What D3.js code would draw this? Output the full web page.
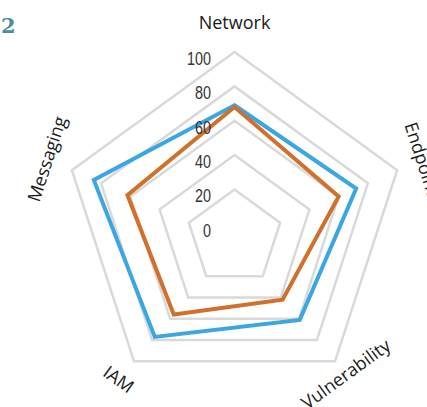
<!DOCTYPE html>
<html>
<head>
<meta charset="utf-8">
<script src="https://cdn.jsdelivr.net/npm/d3@7"></script>
<style>
  body { margin: 0; background: #fff; }
  svg { display: block; }
</style>
</head>
<body>
<div id="chart"></div>
<script>
var categories = ["Network", "Endpoint", "Vulnerability", "IAM", "Messaging"]
var seriesBlue = [69, 72, 61, 77, 85]
var seriesOrange = [68, 60, 42, 56, 62]
var tickValues = [0, 20, 40, 60, 80, 100]
var gridValues = [20, 40, 60, 80, 100]

var width = 427, height = 407

var svg = d3.select("#chart").append("svg")
  .attr("width", width)
  .attr("height", height)

// the rings in the picture are not concentric: inner ones sit a bit lower
var cx = 234.5
var r = d3.scaleLinear().domain([0, 100]).range([17.25, 171])
var cy = d3.scaleLinear().domain([0, 100]).range([241.1, 223])
var angle = d3.scaleBand().domain(categories).range([0, 2 * Math.PI]).align(0).paddingInner(0).paddingOuter(0)

function point(cat, v) {
  var a = angle(cat)
  return [cx + r(v) * Math.sin(a), cy(v) - r(v) * Math.cos(a)]
}

// grid rings
svg.selectAll(".ring").data(gridValues).enter().append("polygon")
  .attr("class", "ring")
  .attr("points", function(v){ return categories.map(function(c){ return point(c, v).join(","); }).join(" "); })
  .style("fill", "none")
  .style("stroke", "#d9d9d9")
  .style("stroke-width", 2.5)

// data series
var series = [
  {name: "blue", values: seriesBlue, color: "#3aa7e3"},
  {name: "orange", values: seriesOrange, color: "#d0702b"}
]

svg.selectAll(".series").data(series).enter().append("polygon")
  .attr("class", "series")
  .attr("points", function(s){ return categories.map(function(c, i){ return point(c, s.values[i]).join(","); }).join(" "); })
  .style("fill", "none")
  .style("stroke", function(s){ return s.color; })
  .style("stroke-width", 4)
  .style("stroke-linejoin", "miter")

// tick labels along the top axis (narrow face, squeezed)
svg.selectAll(".tick").data(tickValues).enter().append("text")
  .attr("class", "tick")
  .attr("transform", function(v){ return "translate(" + (cx - 23.5) + "," + (cy(v) - r(v) + 13) + ") scale(0.8,1)"; })
  .attr("text-anchor", "end")
  .style("font-family", "'Liberation Sans', Arial, sans-serif")
  .style("font-size", "18px")
  .style("fill", "#333")
  .text(function(d){ return d; })

// category labels, tangent to the ring
svg.selectAll(".cat").data(categories).enter().append("text")
  .attr("class", "cat")
  .attr("transform", function(c){
    var p = point(c, c == "Vulnerability" ? 112 : 117)
    var deg = angle(c) * 180 / Math.PI
    if (deg > 90 && deg < 270) deg -= 180
    if (deg >= 270) deg -= 360
    return "translate(" + p[0] + "," + p[1] + ") rotate(" + deg + ")"
  })
  .attr("text-anchor", "middle")
  .attr("dy", "0.35em")
  .style("font-family", "'Open Sans', sans-serif")
  .style("font-size", "18px")
  .style("fill", "#1a1a1a")
  .text(function(d){ return d; })

// figure number fragment at top left
svg.append("text")
  .attr("x", 1)
  .attr("y", 33)
  .style("font-family", "'DejaVu Serif', serif")
  .style("font-weight", "bold")
  .style("font-size", "21px")
  .style("fill", "#4a8f9b")
  .text("2")
</script>
</body>
</html>
